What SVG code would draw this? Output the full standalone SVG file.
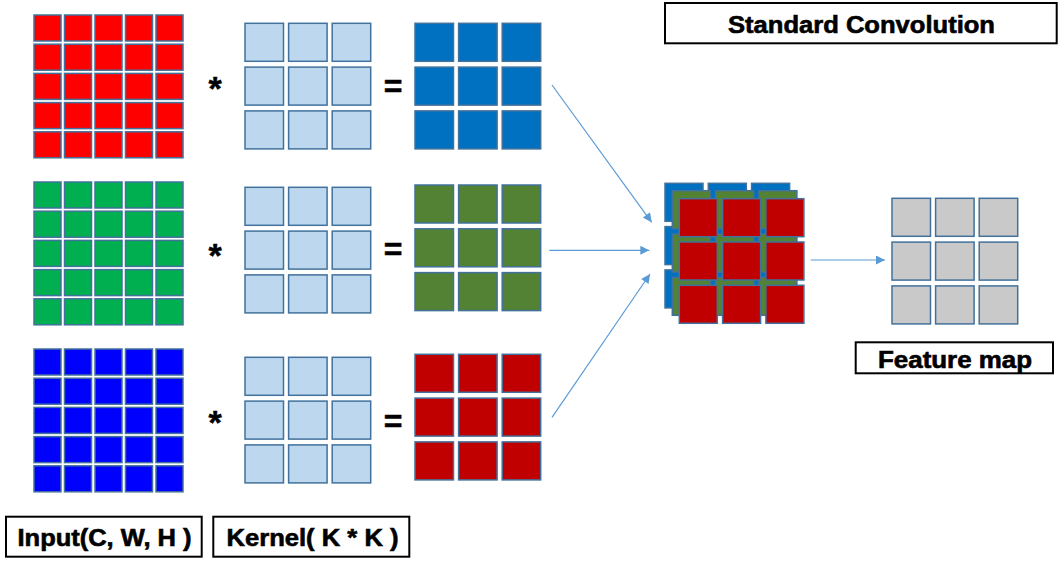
<svg xmlns="http://www.w3.org/2000/svg" xmlns:xlink="http://www.w3.org/1999/xlink" width="1058" height="567" viewBox="0 0 1058 567">
<style>
.cell{stroke:#41719C;stroke-width:1.5}
.box{fill:#FFFFFF;stroke:#000000;stroke-width:2}
.lbl{font-family:"Liberation Sans",Arial,sans-serif;font-weight:bold;font-size:23px;fill:#000000;stroke:#000000;stroke-width:0.6;text-anchor:middle}
.op{font-family:"Liberation Sans",Arial,sans-serif;font-weight:bold;fill:#000000;stroke:#000000;stroke-width:0.5;text-anchor:middle}
.conn{stroke:#5B9BD5;stroke-width:1.2;fill:none;marker-end:url(#ah)}
</style>
<defs>
<marker id="ah" viewBox="0 0 10 10" refX="10" refY="5" markerWidth="10" markerHeight="9" markerUnits="userSpaceOnUse" orient="auto">
<path d="M0,0 L10,5 L0,10 z" fill="#5B9BD5"/>
</marker>
<g id="g5">
<rect class="cell" x="0" y="0" width="27" height="26"/><rect class="cell" x="30.5" y="0" width="27" height="26"/><rect class="cell" x="61" y="0" width="27" height="26"/><rect class="cell" x="91.5" y="0" width="27" height="26"/><rect class="cell" x="122" y="0" width="27" height="26"/>
<rect class="cell" x="0" y="29.2" width="27" height="26"/><rect class="cell" x="30.5" y="29.2" width="27" height="26"/><rect class="cell" x="61" y="29.2" width="27" height="26"/><rect class="cell" x="91.5" y="29.2" width="27" height="26"/><rect class="cell" x="122" y="29.2" width="27" height="26"/>
<rect class="cell" x="0" y="58.4" width="27" height="26"/><rect class="cell" x="30.5" y="58.4" width="27" height="26"/><rect class="cell" x="61" y="58.4" width="27" height="26"/><rect class="cell" x="91.5" y="58.4" width="27" height="26"/><rect class="cell" x="122" y="58.4" width="27" height="26"/>
<rect class="cell" x="0" y="87.6" width="27" height="26"/><rect class="cell" x="30.5" y="87.6" width="27" height="26"/><rect class="cell" x="61" y="87.6" width="27" height="26"/><rect class="cell" x="91.5" y="87.6" width="27" height="26"/><rect class="cell" x="122" y="87.6" width="27" height="26"/>
<rect class="cell" x="0" y="116.8" width="27" height="26"/><rect class="cell" x="30.5" y="116.8" width="27" height="26"/><rect class="cell" x="61" y="116.8" width="27" height="26"/><rect class="cell" x="91.5" y="116.8" width="27" height="26"/><rect class="cell" x="122" y="116.8" width="27" height="26"/>
</g>
<g id="g3">
<rect class="cell" x="0" y="0" width="38.5" height="38"/><rect class="cell" x="43.6" y="0" width="38.5" height="38"/><rect class="cell" x="87.2" y="0" width="38.5" height="38"/>
<rect class="cell" x="0" y="43.8" width="38.5" height="38"/><rect class="cell" x="43.6" y="43.8" width="38.5" height="38"/><rect class="cell" x="87.2" y="43.8" width="38.5" height="38"/>
<rect class="cell" x="0" y="87.6" width="38.5" height="38"/><rect class="cell" x="43.6" y="87.6" width="38.5" height="38"/><rect class="cell" x="87.2" y="87.6" width="38.5" height="38"/>
</g>
<g id="gs">
<rect class="cell" x="0" y="0" width="38" height="38"/><rect class="cell" x="43.3" y="0" width="38" height="38"/><rect class="cell" x="86.6" y="0" width="38" height="38"/>
<rect class="cell" x="0" y="43.3" width="38" height="38"/><rect class="cell" x="43.3" y="43.3" width="38" height="38"/><rect class="cell" x="86.6" y="43.3" width="38" height="38"/>
<rect class="cell" x="0" y="86.6" width="38" height="38"/><rect class="cell" x="43.3" y="86.6" width="38" height="38"/><rect class="cell" x="86.6" y="86.6" width="38" height="38"/>
</g>
</defs>
<rect x="0" y="0" width="1058" height="567" fill="#FFFFFF"/>

<g id="input-red"><use xlink:href="#g5" x="34" y="15" fill="#FF0000"/></g>
<g id="input-green"><use xlink:href="#g5" x="34" y="182" fill="#00B050"/></g>
<g id="input-blue"><use xlink:href="#g5" x="34" y="349" fill="#0000FF"/></g>

<g id="ops">
<text class="op" x="215" y="100" font-size="34">*</text>
<text class="op" x="215" y="267" font-size="34">*</text>
<text class="op" x="215" y="434" font-size="34">*</text>
<text class="op" x="393" y="97" font-size="32">=</text>
<text class="op" x="393" y="260" font-size="32">=</text>
<text class="op" x="393" y="432" font-size="32">=</text>
</g>

<g id="kernel-1"><use xlink:href="#g3" x="245" y="23.3" fill="#BDD7EE"/></g>
<g id="kernel-2"><use xlink:href="#g3" x="245" y="187.3" fill="#BDD7EE"/></g>
<g id="kernel-3"><use xlink:href="#g3" x="245" y="357.3" fill="#BDD7EE"/></g>

<g id="out-blue"><use xlink:href="#g3" x="415" y="23.3" fill="#0070C0"/></g>
<g id="out-green"><use xlink:href="#g3" x="415" y="185" fill="#548235"/></g>
<g id="out-red"><use xlink:href="#g3" x="415" y="354.3" fill="#C00000"/></g>

<g id="stack">
<use xlink:href="#gs" x="665" y="183.3" fill="#0070C0"/>
<use xlink:href="#gs" x="672.3" y="190.7" fill="#548235"/>
<use xlink:href="#gs" x="679.3" y="198.7" fill="#C00000"/>
</g>

<g id="feature-map"><use xlink:href="#g3" x="892" y="198.3" fill="#C9C9C9"/></g>

<g id="connectors">
<line class="conn" x1="552" y1="85" x2="651.7" y2="222.3"/>
<line class="conn" x1="549.3" y1="250.3" x2="649.3" y2="250.3"/>
<line class="conn" x1="552" y1="417.3" x2="650" y2="274"/>
<line class="conn" x1="810.7" y1="260" x2="885" y2="260"/>
</g>

<g id="title">
<rect class="box" x="665" y="3" width="391.7" height="40.3"/>
<text class="lbl" x="861.5" y="33" textLength="267" lengthAdjust="spacingAndGlyphs">Standard Convolution</text>
</g>
<g id="label-input">
<rect class="box" x="6" y="516.7" width="195.7" height="40"/>
<text class="lbl" x="104.5" y="546" textLength="174" lengthAdjust="spacingAndGlyphs">Input(C, W, H )</text>
</g>
<g id="label-kernel">
<rect class="box" x="213.3" y="516.7" width="196" height="40"/>
<text class="lbl" x="312.5" y="546" textLength="172" lengthAdjust="spacingAndGlyphs">Kernel( K * K )</text>
</g>
<g id="label-feature">
<rect class="box" x="855.7" y="342.3" width="197.3" height="31"/>
<text class="lbl" x="955" y="368" font-size="22" textLength="154" lengthAdjust="spacingAndGlyphs">Feature map</text>
</g>
</svg>
